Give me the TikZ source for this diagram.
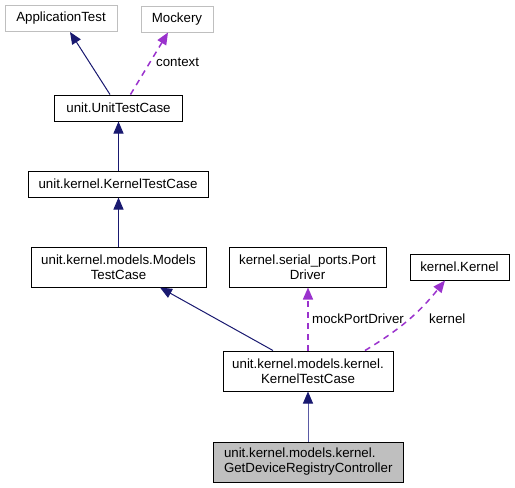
\documentclass[tikz,border=0pt]{standalone}
\usepackage{fontspec}
\setmainfont{Liberation Sans}
\usetikzlibrary{arrows.meta}
\definecolor{edgeblue}{HTML}{191970}
\definecolor{edgeblueb}{HTML}{5A5AA5}
\definecolor{edgepurple}{HTML}{9A32CD}
\definecolor{boxgray}{HTML}{BFBFBF}
\begin{document}
\begin{tikzpicture}[x=1pt,y=-1pt,
  every node/.style={font=\fontsize{13.3}{15}\selectfont},
  cls/.style={draw=black,line width=1pt,fill=white,inner sep=0pt,align=center},
  extcls/.style={draw=boxgray,line width=1pt,fill=white,inner sep=0pt,align=center},
  inh/.style={draw=edgeblue,line width=1pt,-{Triangle[width=10pt,length=12pt,color=edgeblue]}},
  usage/.style={draw=edgepurple,line width=1.5pt,dash pattern=on 6pt off 5pt,-{Triangle[width=10pt,length=12pt,color=edgepurple]}},
  lbl/.style={anchor=west,inner sep=0pt}]
\useasboundingbox (0,0) rectangle (515,488);
\node[extcls,minimum width=112pt,minimum height=26pt] (app) at (61,18.5) {ApplicationTest};
\node[extcls,minimum width=72pt,minimum height=26pt] (mock) at (177,19) {Mockery};
\node[cls,minimum width=128pt,minimum height=26pt] (utc) at (118.5,108) {unit.UnitTestCase};
\node[cls,minimum width=180pt,minimum height=26pt] (uktc) at (118,184) {unit.kernel.KernelTestCase};
\node[cls,minimum width=175pt,minimum height=40pt] (mtc) at (118.5,267) {unit.kernel.models.Models\\TestCase};
\node[cls,minimum width=157pt,minimum height=40pt] (pd) at (307.5,267) {kernel.serial\_ports.Port\\Driver};
\node[cls,minimum width=99pt,minimum height=26pt] (kk) at (459.5,267) {kernel.Kernel};
\node[cls,minimum width=170pt,minimum height=40pt] (mk) at (308,371) {unit.kernel.models.kernel.\\KernelTestCase};
\node[cls,fill=boxgray,minimum width=190pt,minimum height=40pt,align=left,text width=168pt,inner xsep=11pt] (gd) at (308,462) {unit.kernel.models.kernel.\\GetDeviceRegistryController};

\draw[inh] ([xshift=-8.5pt]utc.north) -- ([xshift=9pt]app.south);
\draw[usage] ([xshift=12pt]utc.north) -- ([xshift=-9pt]mock.south);
\node[lbl] (lctx) at (156,62) {context};
\draw[inh] (uktc.north -| utc.south) -- (utc.south);
\draw[inh] (mtc.north) -- (mtc.north |- uktc.south);
\draw[inh] ([xshift=-35pt]mk.north) -- ([xshift=41.5pt]mtc.south);
\draw[usage] (mk.north) -- (mk.north |- pd.south);
\node[lbl] (lmpd) at (312,319) {mockPortDriver};
\draw[usage] ([xshift=57pt]mk.north) to[bend right=10] ([xshift=-14.5pt]kk.south);
\node[lbl] (lk) at (429,319) {kernel};
\draw[inh,draw=edgeblueb] (gd.north -| mk.south) -- (mk.south);
\end{tikzpicture}
\end{document}
